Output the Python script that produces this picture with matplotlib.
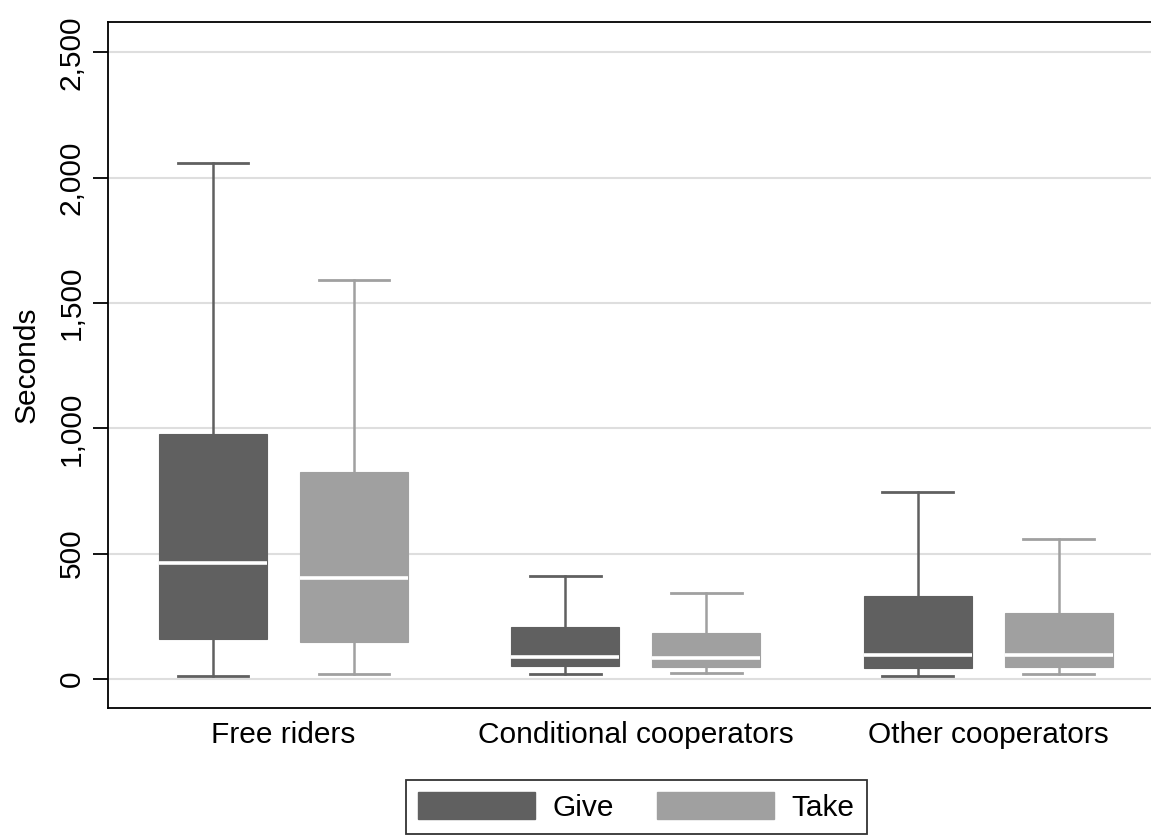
import numpy as np
import matplotlib
matplotlib.use('Agg')
import matplotlib.pyplot as plt
from matplotlib.patches import Patch

plt.rcParams['font.family'] = ['Liberation Sans', 'DejaVu Sans']

categories = ['Free riders', 'Conditional cooperators', 'Other cooperators']
series = ['Give', 'Take']

# per category: lower whisker, q1, median, q3, upper whisker (seconds)
give_lo  = [12, 20, 12]
give_q1  = [160, 52, 44]
give_med = [463, 88, 96]
give_q3  = [977, 207, 331]
give_hi  = [2058, 411, 746]

take_lo  = [20, 24, 20]
take_q1  = [148, 48, 48]
take_med = [403, 84, 96]
take_q3  = [826, 183, 263]
take_hi  = [1592, 343, 558]

colors = {'Give': '#606060', 'Take': '#a0a0a0'}
yticks = [0, 500, 1000, 1500, 2000, 2500]
fs = 21.5

fig = plt.figure(figsize=(11.51, 8.35), dpi=100)
ax = fig.add_axes([0.0938, 0.152, 0.9062, 0.8216])

def make_stats(lo, q1, med, q3, hi):
    return [dict(whislo=a, q1=b, med=c, q3=d, whishi=e, fliers=[])
            for a, b, c, d, e in zip(lo, q1, med, q3, hi)]

data = {
    'Give': make_stats(give_lo, give_q1, give_med, give_q3, give_hi),
    'Take': make_stats(take_lo, take_q1, take_med, take_q3, take_hi),
}

x = np.arange(len(categories))
offsets = {'Give': -0.2, 'Take': 0.2}
for s in series:
    c = colors[s]
    ax.bxp(data[s], positions=x + offsets[s], widths=0.306, capwidths=0.2,
           patch_artist=True, showfliers=False, manage_ticks=False,
           boxprops=dict(facecolor=c, edgecolor=c, linewidth=0.8),
           whiskerprops=dict(color=c, linewidth=1.8),
           capprops=dict(color=c, linewidth=2.0),
           medianprops=dict(color='white', linewidth=2.6, solid_capstyle='butt'),
           zorder=3)

ax.set_xlim(-0.498, 2.462)
ax.set_ylim(-116, 2621)
ax.set_yticks(yticks)
ax.set_yticklabels([f'{v:,}' for v in yticks], rotation=90, va='center', fontsize=fs)
ax.set_xticks(x)
ax.set_xticklabels(categories, fontsize=fs)
ax.tick_params(axis='x', length=0, pad=9)
ax.tick_params(axis='y', length=11, width=1.3, pad=5)
ax.yaxis.grid(True, color='#dedede', linewidth=1.5)
ax.set_axisbelow(True)
ax.set_ylabel('Seconds', fontsize=fs, labelpad=12)

for side in ['left', 'bottom', 'top']:
    ax.spines[side].set_linewidth(1.3)
    ax.spines[side].set_color('black')
ax.spines['right'].set_visible(False)

handles = [Patch(facecolor=colors[s], edgecolor=colors[s], label=s) for s in series]
leg = fig.legend(handles=handles, loc='center', bbox_to_anchor=(0.553, 0.034),
                 ncol=2, fontsize=fs, frameon=True, fancybox=False,
                 handlelength=3.9, handleheight=1.04, handletextpad=0.6,
                 columnspacing=1.45, borderpad=0.4)
leg.get_frame().set_edgecolor('black')
leg.get_frame().set_linewidth(1.3)

fig.savefig('out.png', dpi=100, facecolor='white')
